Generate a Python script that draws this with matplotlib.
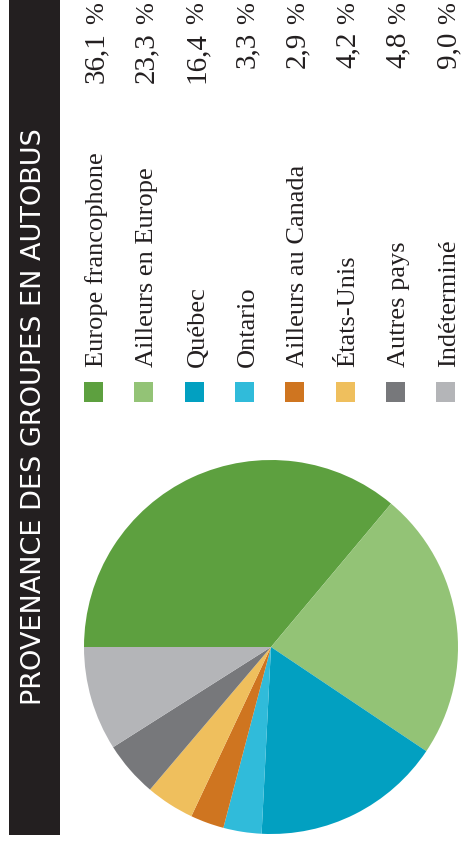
import matplotlib.pyplot as plt
from matplotlib.patches import Rectangle

# Provenance of bus groups, share in percent
categories = ['Europe francophone', 'Ailleurs en Europe', 'Québec', 'Ontario',
              'Ailleurs au Canada', 'États-Unis', 'Autres pays', 'Indéterminé']
shares = [36.1, 23.3, 16.4, 3.3, 2.9, 4.2, 4.8, 9.0]
colors = ['#5da03f', '#93c376', '#02a0c1', '#30bbda', '#cf7520', '#efbf5d', '#77787b', '#b4b5b8']
title = 'PROVENANCE DES GROUPES EN AUTOBUS'

W, H = 462, 845
fig = plt.figure(figsize=(W / 100, H / 100), dpi=100)

# background axes in pixel units (y pointing down)
bg = fig.add_axes([0, 0, 1, 1])
bg.set_xlim(0, W)
bg.set_ylim(H, 0)
bg.axis('off')

bg.add_patch(Rectangle((9, 0), 51, 836, color='#231f20', lw=0))
bg.text(34, 417, title, rotation=90, color='white', fontsize=19.5,
        family='DejaVu Sans', ha='center', va='center')

# legend columns, rotated text reading bottom to top
step = 50.3
txt = dict(rotation=90, rotation_mode='anchor', va='baseline',
           family='Liberation Serif', color='#231f20')
for i, (name, v, c) in enumerate(zip(categories, shares, colors)):
    base = 103 + i * step
    bg.add_patch(Rectangle((base - 19, 383), 19, 20, color=c, lw=0))
    bg.text(base, 367, name, ha='left', fontsize=19, **txt)
    bg.text(base, 32, f'{v:.1f}'.replace('.', ','), ha='right', fontsize=21, **txt)
    bg.text(base, 2, '%', ha='right', fontsize=19, **txt)

# pie
cx, cy, r = 271, 648, 187
pax = fig.add_axes([(cx - r) / W, (H - cy - r) / H, 2 * r / W, 2 * r / H])
pax.pie(shares, colors=colors, startangle=180, counterclock=False,
        wedgeprops=dict(linewidth=0))
pax.set_xlim(-1, 1)
pax.set_ylim(-1, 1)
pax.set_aspect('equal')

fig.savefig('out.png', dpi=100)
